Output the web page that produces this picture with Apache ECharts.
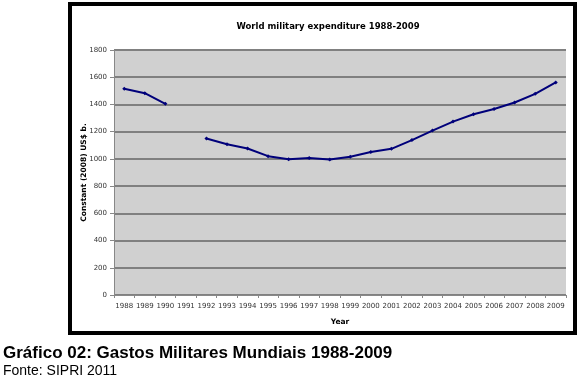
<!DOCTYPE html>
<html>
<head>
<meta charset="utf-8">
<script src="https://cdn.jsdelivr.net/npm/echarts@6/dist/echarts.min.js"></script>
<style>
  html, body { margin: 0; padding: 0; background: #fff; }
  #chart { width: 580px; height: 385px; }
</style>
</head>
<body>
<div id="chart"></div>
<script>
const years = ['1988', '1989', '1990', '1991', '1992', '1993', '1994', '1995', '1996', '1997', '1998',
  '1999', '2000', '2001', '2002', '2003', '2004', '2005', '2006', '2007', '2008', '2009']
// constant (2008) US$ b., 1991 missing
const spending = [1515, 1483, 1405, null, 1150, 1108, 1076, 1020, 998, 1006, 995,
  1015, 1050, 1074, 1138, 1208, 1274, 1328, 1367, 1414, 1478, 1562]

const chart = echarts.init(document.getElementById('chart'), null, { renderer: 'canvas' })

const tickFont = { color: '#333', fontSize: 7, fontFamily: 'DejaVu Sans' }

chart.setOption({
  animation: false,
  title: {
    text: 'World military expenditure 1988-2009',
    left: 323,
    top: 17,
    textAlign: 'center',
    textStyle: { fontFamily: 'DejaVu Sans', fontSize: 8.5, fontWeight: 'bold', color: '#000' },
  },
  grid: { left: 114, right: 14, top: 50, bottom: 90, backgroundColor: '#d0d0d0', show: true, borderWidth: 0 },
  xAxis: {
    type: 'category',
    data: years,
    boundaryGap: true,
    name: 'Year',
    nameLocation: 'middle',
    nameGap: 23,
    nameMoveOverlap: false,
    nameTextStyle: { fontFamily: 'DejaVu Sans', fontSize: 7.5, fontWeight: 'bold', color: '#000' },
    axisLine: { lineStyle: { color: '#888', width: 1 } },
    axisTick: { show: true, length: 3, lineStyle: { color: '#888' } },
    axisLabel: { ...tickFont, margin: 8, interval: 0 },
    splitLine: { show: false },
  },
  yAxis: {
    type: 'value',
    min: 0,
    max: 1800,
    interval: 200,
    name: 'Constant (2008) US$ b.',
    nameLocation: 'middle',
    nameGap: 26,
    nameMoveOverlap: false,
    nameTextStyle: { fontFamily: 'DejaVu Sans', fontSize: 7.5, fontWeight: 'bold', color: '#000' },
    axisLine: { show: true, lineStyle: { color: '#888', width: 1 } },
    axisTick: { show: true, length: 4, lineStyle: { color: '#888' } },
    axisLabel: { ...tickFont, margin: 7, formatter: v => String(v) },
    splitLine: { lineStyle: { color: '#808080', width: 2 } },
  },
  series: [{
    type: 'line',
    data: spending,
    connectNulls: false,
    lineStyle: { color: '#00007a', width: 2 },
    itemStyle: { color: '#00007a' },
    symbol: 'diamond',
    symbolSize: 4,
    showSymbol: true,
  }],
  graphic: [
    {
      type: 'rect',
      shape: { x: 70, y: 4, width: 505, height: 329 },
      style: { fill: 'none', stroke: '#000', lineWidth: 4 },
      z: 100,
    },
    {
      type: 'text',
      left: 3,
      top: 345,
      style: { text: 'Gráfico 02: Gastos Militares Mundiais 1988-2009', fontFamily: 'Liberation Sans', fontSize: 17, fontWeight: 'bold', fill: '#000' },
    },
    {
      type: 'text',
      left: 3,
      top: 364,
      style: { text: 'Fonte: SIPRI 2011', fontFamily: 'Liberation Sans', fontSize: 14, fill: '#000' },
    },
  ],
})
</script>
</body>
</html>
